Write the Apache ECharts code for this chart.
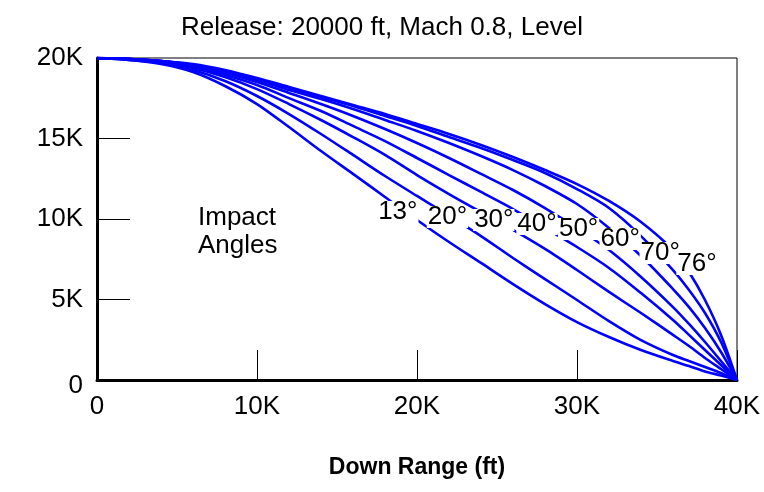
<!DOCTYPE html>
<html>
<head>
<meta charset="utf-8">
<script src="https://cdn.jsdelivr.net/npm/echarts@6/dist/echarts.min.js"></script>
<style>
html,body{margin:0;padding:0;background:#fff;}
#chart{width:764px;height:492px;}
</style>
</head>
<body>
<div id="chart"></div>
<script>
// Down range (ft)
var downRange = [0,2000,4000,6000,8000,10000,12000,14000,16000,18000,20000,22000,24000,26000,28000,30000,32000,34000,36000,37000,38000,39000,40000];
// Altitude (ft) for each impact angle trajectory
var alt13 = [20000,19880,19630,19130,18260,17140,15710,14220,12800,11370,9940,8570,7270,5960,4720,3600,2670,1860,1180,870,530,280,0];
var alt20 = [20000,19880,19690,19250,18570,17640,16520,15280,13980,12670,11430,10190,8940,7580,6270,4970,3660,2480,1550,1180,810,430,0];
var alt30 = [20000,19940,19750,19380,18820,18070,17140,16150,15090,13980,12730,11550,10430,9320,8140,6830,5470,4160,2800,2110,1370,680,0];
var alt40 = [20000,19940,19750,19440,18940,18320,17510,16710,15780,14840,13790,12730,11680,10620,9440,8260,6960,5400,3730,2800,1860,930,0];
var alt50 = [20000,19940,19810,19500,19070,18510,17830,17140,16400,15590,14720,13790,12800,11800,10680,9440,8070,6400,4530,3480,2360,1180,0];
var alt60 = [20000,19940,19810,19570,19130,18630,18010,17450,16830,16150,15470,14720,13910,13040,12050,10930,9440,7700,5650,4530,3230,1740,0];
var alt70 = [20000,19940,19810,19570,19190,18700,18140,17580,17020,16400,15780,15090,14410,13660,12860,11860,10680,8940,6830,5590,4160,2360,0];
var alt76 = [20000,19940,19810,19630,19260,18760,18200,17640,17080,16520,15900,15280,14600,13850,13040,12170,11120,9810,8070,6710,4970,2800,0];

// Impact angle labels and where they sit on the curves (data units)
var angleLabels = ['13°','20°','30°','40°','50°','60°','70°','76°'];
var labelRange = [18800,21900,24800,27500,30100,32700,35200,37500];
var labelAlt = [10430,10130,9940,9690,9380,8760,7890,7200];

var xTicks = [0,10000,20000,30000,40000];
var yTicks = [0,5000,10000,15000,20000];

var titleText = 'Release: 20000 ft, Mach 0.8, Level';
var xName = 'Down Range (ft)';
var noteText = 'Impact\nAngles';

var allAlts = [alt13,alt20,alt30,alt40,alt50,alt60,alt70,alt76];

function kfmt(v){ return v === 0 ? '0' : (v/1000) + 'K'; }

var series = allAlts.map(function(a, i){
  return {
    type:'line',
    name: angleLabels[i],
    data: downRange.map(function(x, j){ return [x, a[j]]; }),
    showSymbol:false,
    smooth:0.3,
    lineStyle:{color:'#0000ff', width:2.6},
    z:2,
    silent:true
  };
});

series.push({
  type:'scatter',
  data: labelRange.map(function(x,i){ return [x, labelAlt[i], angleLabels[i]]; }),
  symbolSize:1,
  itemStyle:{color:'rgba(0,0,0,0)', opacity:1},
  z:5,
  silent:true,
  label:{
    show:true,
    position:'inside',
    formatter:function(p){ return p.data[2]; },
    color:'#000',
    opacity:1,
    fontSize:26,
    fontFamily:'Liberation Sans, Arial, sans-serif',
    backgroundColor:'#ffffff',
    padding:[0,1,0,1],
    lineHeight:22
  }
});

var chart = echarts.init(document.getElementById('chart'), null, {renderer:'canvas'});
chart.setOption({
  animation:false,
  backgroundColor:'#fff',
  textStyle:{fontFamily:'Liberation Sans, Arial, sans-serif'},
  title:{
    text:titleText,
    left:'center',
    top:10,
    textStyle:{fontSize:26, fontWeight:'normal', color:'#000', fontFamily:'Liberation Sans, Arial, sans-serif'}
  },
  grid:{left:97, right:27, top:58, bottom:112, show:true, borderColor:'#000', borderWidth:1, backgroundColor:'#fff'},
  xAxis:{
    type:'value', min:xTicks[0], max:xTicks[xTicks.length-1], interval:10000,
    axisLine:{lineStyle:{color:'#000', width:3}},
    axisTick:{inside:true, length:30, lineStyle:{color:'#000', width:1}},
    axisLabel:{fontSize:26, color:'#000', margin:14, formatter:kfmt},
    splitLine:{show:false},
    name:xName, nameLocation:'middle', nameGap:76,
    nameTextStyle:{fontSize:23, fontWeight:'bold', color:'#000'}
  },
  yAxis:{
    type:'value', min:yTicks[0], max:yTicks[yTicks.length-1], interval:5000,
    axisLine:{lineStyle:{color:'#000', width:3}},
    axisTick:{inside:true, length:33, lineStyle:{color:'#000', width:1}},
    axisLabel:{fontSize:26, color:'#000', margin:14,
      formatter:function(v){ return v === 0 ? '{z|0}' : kfmt(v); },
      rich:{z:{fontSize:26, color:'#000', padding:[12,0,0,0]}}
    },
    splitLine:{show:false}
  },
  graphic:[{
    type:'text',
    left:198, top:204,
    style:{text:noteText, fontSize:26, lineHeight:28, fill:'#000', textAlign:'left',
      fontFamily:'Liberation Sans, Arial, sans-serif'}
  }],
  series:series
});
</script>
</body>
</html>
